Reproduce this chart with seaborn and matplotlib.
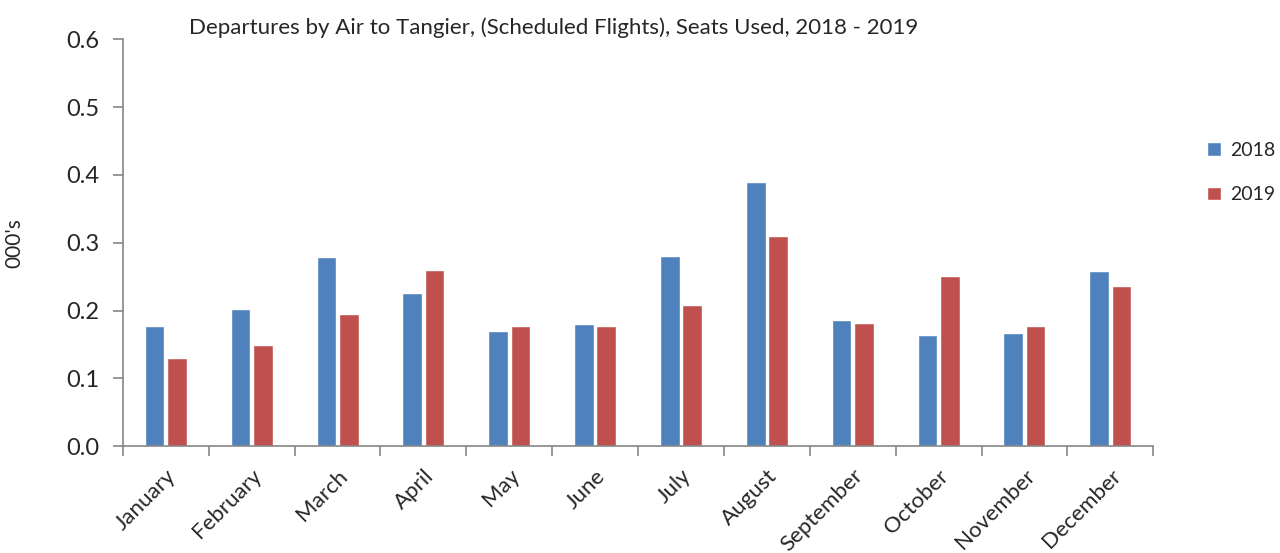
import matplotlib
matplotlib.use("Agg")
import matplotlib.pyplot as plt
import seaborn as sns
import pandas as pd
from matplotlib.patches import Patch

months = ["January", "February", "March", "April", "May", "June", "July",
          "August", "September", "October", "November", "December"]
values_2018 = [0.177, 0.202, 0.279, 0.226, 0.170, 0.180, 0.280, 0.389, 0.186, 0.164, 0.167, 0.258]
values_2019 = [0.130, 0.150, 0.195, 0.260, 0.178, 0.177, 0.208, 0.310, 0.181, 0.251, 0.177, 0.237]
years = ["2018", "2019"]
colors = ["#4F81BD", "#C0504D"]

df = pd.DataFrame({
    "month": months * 2,
    "value": values_2018 + values_2019,
    "year": [years[0]] * len(months) + [years[1]] * len(months),
})

sns.set_style("white")
plt.rcParams["font.family"] = ["Lato", "DejaVu Sans"]

fig = plt.figure(figsize=(12.8, 5.53), dpi=100)
ax = fig.add_axes([0.096, 0.193, 0.805, 0.736])

sns.barplot(data=df, x="month", y="value", hue="year", order=months,
            hue_order=years, palette=colors, width=0.52, gap=0.12,
            saturation=1, ax=ax, legend=False, errorbar=None)

ax.set_xlim(-0.5, len(months) - 0.5)
ax.set_ylim(0, 0.6)
ax.set_yticks([0.0, 0.1, 0.2, 0.3, 0.4, 0.5, 0.6])
ax.set_yticklabels([f"{v:.1f}" for v in ax.get_yticks()], fontsize=17)
ax.set_xticks(range(len(months)))
ax.set_xticklabels(months, rotation=45, ha="right", rotation_mode="anchor", fontsize=16)
ax.tick_params(axis="x", length=0, pad=14)
ax.set_xticks([i - 0.5 for i in range(len(months) + 1)], minor=True)
ax.tick_params(axis="x", which="minor", length=7, width=1.2, color="#868686", direction="out", bottom=True)
ax.tick_params(axis="y", length=7, width=1.2, color="#868686", direction="out", left=True, pad=10)

for s in ["top", "right"]:
    ax.spines[s].set_visible(False)
for s in ["left", "bottom"]:
    ax.spines[s].set_color("#868686")
    ax.spines[s].set_linewidth(1.2)

ax.set_xlabel("")
ax.set_ylabel("000's", fontsize=15, labelpad=30)

fig.text(0.148, 0.949, "Departures by Air to Tangier, (Scheduled Flights), Seats Used, 2018 - 2019",
         fontsize=16, ha="left", va="center")

handles = [Patch(facecolor=c, label=y) for c, y in zip(colors, years)]
fig.legend(handles=handles, loc="center left", bbox_to_anchor=(0.943, 0.688),
           frameon=False, fontsize=14, handlelength=0.7, handleheight=0.7,
           labelspacing=1.4, handletextpad=0.5, borderaxespad=0, borderpad=0)

fig.savefig("out.png", dpi=100)
